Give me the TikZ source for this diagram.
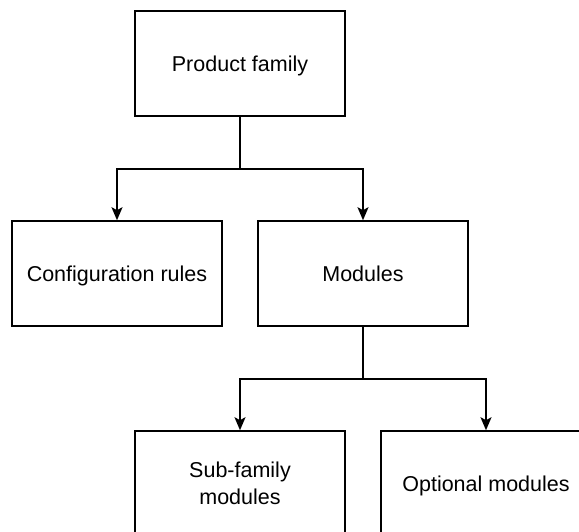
\documentclass[tikz,border=0pt]{standalone}
\usepackage{fontspec}
\setmainfont{Liberation Sans}
\usetikzlibrary{arrows.meta}
\begin{document}
\begin{tikzpicture}[x=1pt,y=-1pt,
  block/.style={draw=black, line width=1.6pt, fill=white, minimum width=210pt, minimum height=105pt,
    inner sep=0pt, align=center, text depth=0pt, font=\fontsize{21.5}{27}\selectfont},
  link/.style={draw=black, line width=1.6pt, -{Stealth[length=13pt,width=11pt,inset=3pt]}}]
  \useasboundingbox (0,0) rectangle (579,531);
  \clip (0,0) rectangle (579,531);
  \node[block] (pf) at (240,63.5) {Product family};
  \node[block] (cr) at (117,273.5) {Configuration rules};
  \node[block] (mo) at (363,273.5) {Modules};
  \node[block] (sf) at (240,483.5) {Sub-family\\modules};
  \node[block] (om) at (486,483.5) {Optional modules};
  \draw[link] (pf.south) -- ++(0,52) -| (cr.north);
  \draw[link] (pf.south) -- ++(0,52) -| (mo.north);
  \draw[link] (mo.south) -- ++(0,52) -| (sf.north);
  \draw[link] (mo.south) -- ++(0,52) -| (om.north);
\end{tikzpicture}
\end{document}
